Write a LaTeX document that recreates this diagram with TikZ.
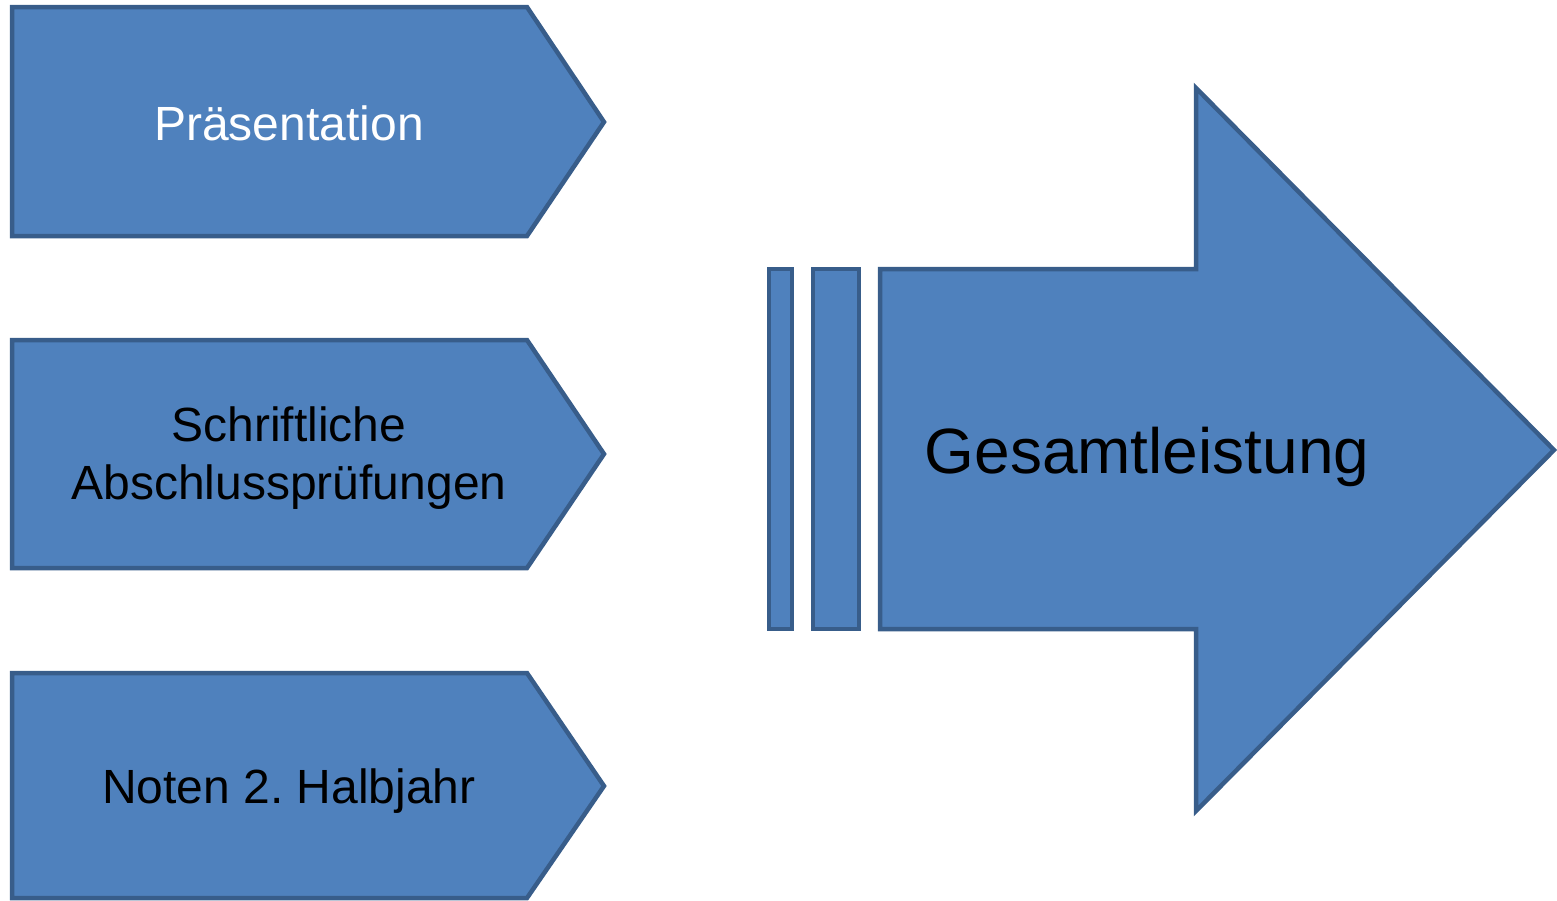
\documentclass[tikz,border=0pt]{standalone}
\usepackage{fontspec}
\setmainfont{Liberation Sans}
\definecolor{fillblue}{HTML}{4F81BD}
\definecolor{edgeblue}{HTML}{385D8A}
\begin{document}
\begin{tikzpicture}[x=1pt,y=-1pt,
  shapestyle/.style={fill=fillblue,draw=edgeblue,line width=4.5pt,line join=miter},
  lbl/.style={font=\fontsize{48}{58}\selectfont,align=center}]
\useasboundingbox (0,0) rectangle (1557,900);
% chevrons
\draw[shapestyle] (12,7) -- (527,7) -- (604,122) -- (527,236) -- (12,236) -- cycle;
\draw[shapestyle] (12,340) -- (527,340) -- (604,454) -- (527,568) -- (12,568) -- cycle;
\draw[shapestyle] (12,673) -- (527,673) -- (604,786) -- (527,898) -- (12,898) -- cycle;
\node[lbl,text=white] (p1) at (289,123) {Präsentation};
\node[lbl,text=black] (p2) at (289,458) {Schriftliche\\Abschlussprüfungen};
\node[lbl,text=black] (p3) at (289,791) {Noten 2.\ Halbjahr};
% striped arrow
\draw[shapestyle] (769,269) rectangle (792,629);
\draw[shapestyle] (813,269) rectangle (859,629);
\draw[shapestyle] (880,269) -- (1196,269) -- (1196,88) -- (1554,450) -- (1196,811) -- (1196,629) -- (880,629) -- cycle;
\node[font=\fontsize{64}{76}\selectfont,text=black] (g) at (1147,457) {Gesamtleistung};
\end{tikzpicture}
\end{document}
